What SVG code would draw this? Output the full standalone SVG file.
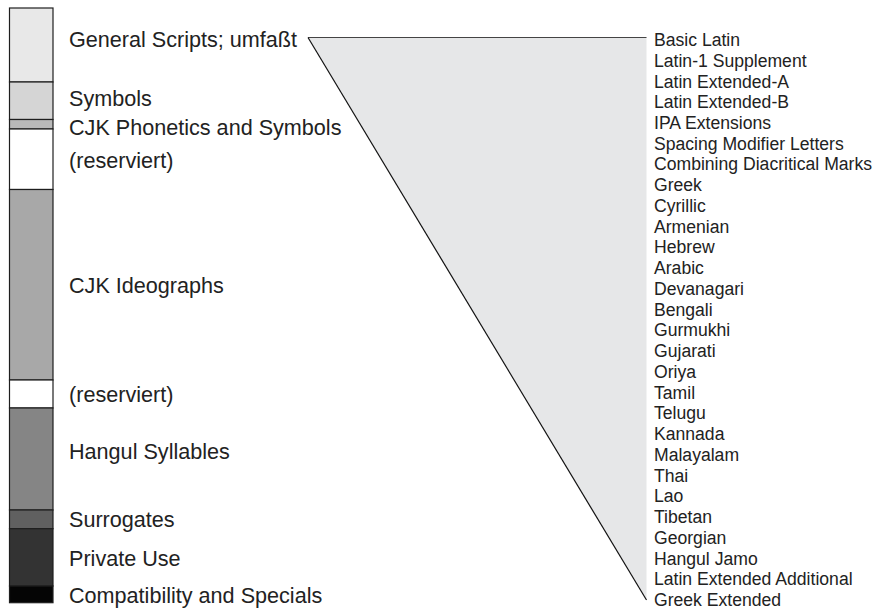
<svg xmlns="http://www.w3.org/2000/svg" width="875" height="610" viewBox="0 0 875 610">
<style>
.seg{stroke:#1e1e1e;stroke-width:1.2}
.lbl{font-family:"Liberation Sans",Arial,sans-serif;font-size:21.6px;fill:#222}
.itm{font-family:"Liberation Sans",Arial,sans-serif;font-size:17.6px;fill:#222}
</style>
<rect width="875" height="610" fill="#ffffff"/>
<g id="bar">
<rect class="seg" x="9.5" y="8" width="43.5" height="74" fill="#e8e8e8"/>
<rect class="seg" x="9.5" y="82" width="43.5" height="37.5" fill="#d5d5d5"/>
<rect class="seg" x="9.5" y="119.5" width="43.5" height="9.5" fill="#b9b9b9"/>
<rect class="seg" x="9.5" y="129" width="43.5" height="60.5" fill="#ffffff"/>
<rect class="seg" x="9.5" y="189.5" width="43.5" height="190.5" fill="#a8a8a8"/>
<rect class="seg" x="9.5" y="380" width="43.5" height="28" fill="#ffffff"/>
<rect class="seg" x="9.5" y="408" width="43.5" height="102" fill="#858585"/>
<rect class="seg" x="9.5" y="510" width="43.5" height="18.7" fill="#606060"/>
<rect class="seg" x="9.5" y="528.7" width="43.5" height="57.3" fill="#333333"/>
<rect class="seg" x="9.5" y="586" width="43.5" height="16.7" fill="#050505"/>
</g>
<g id="labels">
<text class="lbl" x="69" y="46.5">General Scripts; umfaßt</text>
<text class="lbl" x="69" y="106">Symbols</text>
<text class="lbl" x="69" y="134.5">CJK Phonetics and Symbols</text>
<text class="lbl" x="69" y="168">(reserviert)</text>
<text class="lbl" x="69" y="293">CJK Ideographs</text>
<text class="lbl" x="69" y="402">(reserviert)</text>
<text class="lbl" x="69" y="459">Hangul Syllables</text>
<text class="lbl" x="69" y="527">Surrogates</text>
<text class="lbl" x="69" y="566">Private Use</text>
<text class="lbl" x="69" y="603">Compatibility and Specials</text>
</g>
<g id="connectors">
<polygon points="308,37.5 646.5,37.5 646.5,600" fill="#e6e7e8" stroke="none"/>
<line x1="308" y1="37.5" x2="646.5" y2="37.5" stroke="#444" stroke-width="1.2"/>
<line x1="308" y1="37.5" x2="646.5" y2="600" stroke="#111" stroke-width="1.2"/>
</g>
<g id="list">
<text class="itm" x="654" y="46">Basic Latin</text>
<text class="itm" x="654" y="66.7">Latin-1 Supplement</text>
<text class="itm" x="654" y="87.5">Latin Extended-A</text>
<text class="itm" x="654" y="108.2">Latin Extended-B</text>
<text class="itm" x="654" y="129">IPA Extensions</text>
<text class="itm" x="654" y="149.7">Spacing Modifier Letters</text>
<text class="itm" x="654" y="170.4">Combining Diacritical Marks</text>
<text class="itm" x="654" y="191.2">Greek</text>
<text class="itm" x="654" y="211.9">Cyrillic</text>
<text class="itm" x="654" y="232.7">Armenian</text>
<text class="itm" x="654" y="253.4">Hebrew</text>
<text class="itm" x="654" y="274.1">Arabic</text>
<text class="itm" x="654" y="294.9">Devanagari</text>
<text class="itm" x="654" y="315.6">Bengali</text>
<text class="itm" x="654" y="336.4">Gurmukhi</text>
<text class="itm" x="654" y="357.1">Gujarati</text>
<text class="itm" x="654" y="377.8">Oriya</text>
<text class="itm" x="654" y="398.6">Tamil</text>
<text class="itm" x="654" y="419.3">Telugu</text>
<text class="itm" x="654" y="440.1">Kannada</text>
<text class="itm" x="654" y="460.8">Malayalam</text>
<text class="itm" x="654" y="481.5">Thai</text>
<text class="itm" x="654" y="502.3">Lao</text>
<text class="itm" x="654" y="523">Tibetan</text>
<text class="itm" x="654" y="543.8">Georgian</text>
<text class="itm" x="654" y="564.5">Hangul Jamo</text>
<text class="itm" x="654" y="585.2">Latin Extended Additional</text>
<text class="itm" x="654" y="606">Greek Extended</text>
</g>
</svg>
